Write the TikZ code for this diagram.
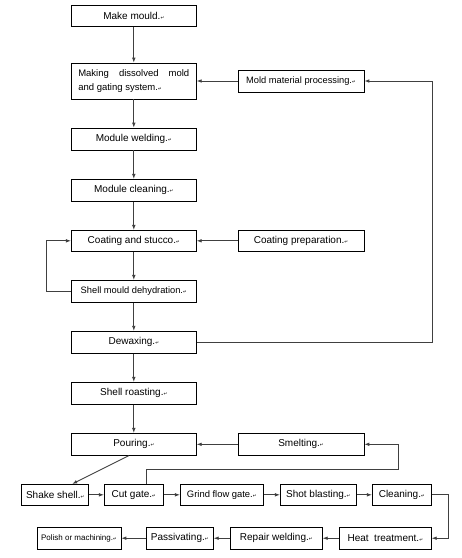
\documentclass[tikz,border=0pt]{standalone}
\usepackage{fontspec}
\setmainfont{Liberation Sans}
\newfontfamily\markfont{DejaVu Sans}
\usetikzlibrary{arrows.meta}

% small paragraph mark after each label
\newcommand\retmark{{\fontsize{4.5}{5}\selectfont\markfont ↵}}

\tikzset{
  box/.style={draw, line width=0.7pt, inner sep=1pt, minimum height=22pt, font=\fontsize{10}{12}\selectfont},
  flow/.style={line width=0.8pt, draw=black!75, -{Latex[length=5pt,width=3.6pt]}},
}

\begin{document}
\begin{tikzpicture}[x=1pt,y=-1pt]
\useasboundingbox (0,0) rectangle (462,558);
% main column
\node[box,minimum width=125pt,minimum height=21pt] (mould) at (133.8,15.8) {Make mould.\retmark};
\node[box,minimum width=125pt,minimum height=36pt,text width=111pt,align=justify,font=\fontsize{9.5}{14}\selectfont] (dissolve) at (133.8,81) {Making dissolved mold and gating system.\retmark};
\node[box,minimum width=125pt] (weld) at (133.8,139) {Module welding.\retmark};
\node[box,minimum width=125pt] (clean) at (133.8,190.3) {Module cleaning.\retmark};
\node[box,minimum width=125pt,minimum height=21pt] (coat) at (133.8,240.8) {Coating and stucco.\retmark};
\node[box,minimum width=125pt,font=\fontsize{9.3}{10}\selectfont] (dehyd) at (133.8,291.3) {Shell mould dehydration.\retmark};
\node[box,minimum width=125pt] (dewax) at (133.8,342.2) {Dewaxing.\retmark};
\node[box,minimum width=125pt] (roast) at (133.8,393.3) {Shell roasting.\retmark};
\node[box,minimum width=125pt] (pour) at (133.8,444.3) {Pouring.\retmark};
% side column
\node[box,minimum width=126pt,font=\fontsize{9.3}{10}\selectfont] (moldproc) at (301,81) {Mold material processing.\retmark};
\node[box,minimum width=126pt,minimum height=21pt] (coatprep) at (301,240.8) {Coating preparation.\retmark};
\node[box,minimum width=126pt] (smelt) at (301,444.3) {Smelting.\retmark};
% first row
\node[box,minimum width=67pt,minimum height=21pt] (shake) at (55.2,494.8) {Shake shell.\retmark};
\node[box,minimum width=59pt,minimum height=21pt] (cut) at (133.8,494.8) {Cut gate.\retmark};
\node[box,minimum width=83pt,minimum height=21pt,font=\fontsize{9.4}{10}\selectfont] (grind) at (221.8,494.8) {Grind flow gate.\retmark};
\node[box,minimum width=76pt,minimum height=21pt] (shot) at (318.3,494.8) {Shot blasting.\retmark};
\node[box,minimum width=59pt,minimum height=21pt] (cleaning) at (401.8,494.8) {Cleaning.\retmark};
% second row
\node[box,minimum width=84pt,font=\fontsize{8}{9}\selectfont] (polish) at (79,538.2) {Polish or machining.\retmark};
\node[box,minimum width=67pt] (passiv) at (179.8,538.2) {Passivating.\retmark};
\node[box,minimum width=92pt] (repair) at (276.3,538.2) {Repair welding.\retmark};
\node[box,minimum width=92pt] (heat) at (385.3,538.2) {Heat\ \ treatment.\retmark};
\coordinate (back) at (398,469.3);

\draw[flow] (mould) -- (dissolve);
\draw[flow] (dissolve) -- (weld);
\draw[flow] (weld) -- (clean);
\draw[flow] (clean) -- (coat);
\draw[flow] (coat) -- (dehyd);
\draw[flow] (dehyd) -- (dewax);
\draw[flow] (dewax) -- (roast);
\draw[flow] (roast) -- (pour);
\draw[flow] (moldproc) -- (dissolve);
\draw[flow] (dewax.east) -- ++(235.7,0) |- (moldproc.east);
\draw[flow] (coatprep) -- (coat);
\draw[flow] (dehyd.west) -- ++(-25,0) |- (coat.west);
\draw[flow] (smelt) -- (pour);
\draw[flow] ([xshift=-5pt]pour.south) -- ([xshift=17pt]shake.north);
\draw[flow] ([xshift=13pt]cut.north) |- (back) |- (smelt.east);
\draw[flow] (shake) -- (cut);
\draw[flow] (cut) -- (grind);
\draw[flow] (grind) -- (shot);
\draw[flow] (shot) -- (cleaning);
\draw[flow] (cleaning.east) -- ++(17,0) |- (heat.east);
\draw[flow] (heat) -- (repair);
\draw[flow] (repair) -- (passiv);
\draw[flow] (passiv) -- (polish);
\end{tikzpicture}
\end{document}
